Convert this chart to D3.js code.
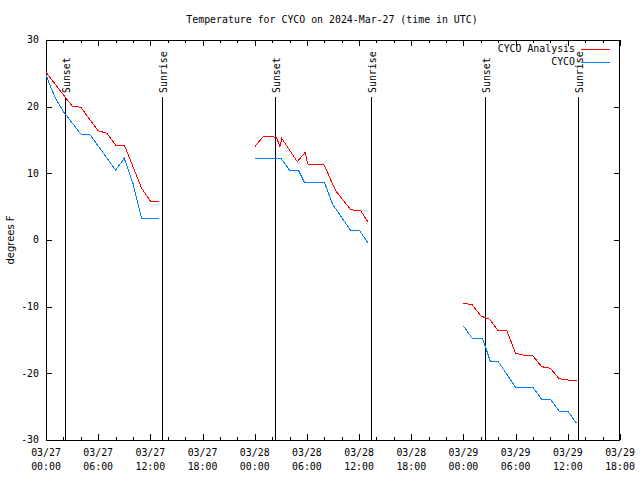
<!DOCTYPE html>
<html>
<head>
<meta charset="utf-8">
<script src="https://cdn.jsdelivr.net/npm/d3@7"></script>
<style>
  html, body { margin: 0; padding: 0; background: #fff; }
  svg { display: block; }
  text { font-family: "DejaVu Sans Mono", "Liberation Mono", monospace; font-size: 9.9px; fill: #000; }
</style>
</head>
<body>
<svg id="chart" width="640" height="480"></svg>
<script>
// ---- data (hours since 2024-03-27 00:00 UTC, degrees F) ----
const title = "Temperature for CYCO on 2024-Mar-27 (time in UTC)";
const yLabel = "degrees F";
const seriesNames = ["CYCO Analysis", "CYCO"];
const seriesColors = ["#ff0000", "#0080ff"];

const analysisHours = [0, 3, 4, 6, 7, 8, 9, 10, 11, 12, 13, null,
  24, 25, 26, 26.5, 26.9, 27.1, 28.9, 29.8, 30.1, 32, 33, 33.4, 35, 35.5, 36.2, 37, null,
  48, 49, 50, 51, 52, 53, 54, 55, 56, 57, 58, 59, 60, 61];
const analysisTemps = [25.15, 20.1, 19.9, 16.4, 16.0, 14.25, 14.25, 11.0, 7.75, 5.85, 5.85, null,
  14.0, 15.55, 15.5, 15.4, 14.0, 15.25, 11.75, 13.15, 11.4, 11.25, 8.25, 7.25, 4.6, 4.4, 4.35, 2.75, null,
  -9.5, -9.7, -11.4, -11.9, -13.6, -13.65, -17.0, -17.3, -17.4, -19.0, -19.25, -20.8, -21.0, -21.0];

const obsHours = [0, 0.45, 1, 2, 4, 5, 8, 9, 10, 11, 13, null,
  24, 27, 28, 29, 29.7, 32, 33, 35, 36, 37, null,
  48, 49, 50.2, 51.1, 52, 54, 56, 57, 58, 59, 60, 61];
const obsTemps = [24.75, 23.25, 21.5, 19.25, 15.9, 15.9, 10.5, 12.25, 8.5, 3.25, 3.25, null,
  12.25, 12.25, 10.5, 10.5, 8.7, 8.7, 5.25, 1.5, 1.5, -0.4, null,
  -12.9, -14.75, -14.75, -18.25, -18.25, -22.1, -22.1, -23.9, -23.9, -25.65, -25.65, -27.5];

const sunHours = [2.18, 13.34, 26.33, 37.37, 50.48, 61.17];
const sunLabels = ["Sunset", "Sunrise", "Sunset", "Sunrise", "Sunset", "Sunrise"];

const xTickHours = [0, 6, 12, 18, 24, 30, 36, 42, 48, 54, 60, 66];
const xTickDates = ["03/27", "03/27", "03/27", "03/27", "03/28", "03/28", "03/28", "03/28", "03/29", "03/29", "03/29", "03/29"];
const xTickTimes = ["00:00", "06:00", "12:00", "18:00", "00:00", "06:00", "12:00", "18:00", "00:00", "06:00", "12:00", "18:00"];
const yTicks = [-30, -20, -10, 0, 10, 20, 30];

// ---- layout ----
const L = 46, R = 620, T = 40, B = 440;
const svg = d3.select("#chart");
const x = d3.scaleLinear().domain([0, 66]).range([L, R]);
const y = d3.scaleLinear().domain([-30, 30]).range([B, T]);

// title
svg.append("text").attr("x", 332).attr("y", 23).attr("text-anchor", "middle").text(title);

// axes (inward ticks, mirrored)
const minorHours = d3.range(0, 67, 2);
const gAx = svg.append("g").attr("shape-rendering", "crispEdges").attr("stroke", "#000").attr("stroke-width", 1);
minorHours.forEach(h => {
  const major = h % 6 === 0;
  const len = major ? 6 : 3;
  gAx.append("line").attr("x1", Math.round(x(h)) + 0.5).attr("x2", Math.round(x(h)) + 0.5).attr("y1", B).attr("y2", B - len);
  gAx.append("line").attr("x1", Math.round(x(h)) + 0.5).attr("x2", Math.round(x(h)) + 0.5).attr("y1", T).attr("y2", T + len);
});
yTicks.forEach(v => {
  const py = Math.round(y(v)) + 0.5;
  gAx.append("line").attr("x1", L).attr("x2", L + 6).attr("y1", py).attr("y2", py);
  gAx.append("line").attr("x1", R).attr("x2", R - 6).attr("y1", py).attr("y2", py);
});

// y tick labels
svg.append("g").selectAll("text").data(yTicks).join("text")
  .attr("x", 39).attr("y", d => y(d)).attr("dy", "0.35em").attr("text-anchor", "end").text(d => d);

// x tick labels
const xl = svg.append("g").selectAll("g").data(xTickHours).join("g");
xl.append("text").attr("x", d => x(d)).attr("y", 456).attr("text-anchor", "middle").text((d, i) => xTickDates[i]);
xl.append("text").attr("x", d => x(d)).attr("y", 470).attr("text-anchor", "middle").text((d, i) => xTickTimes[i]);

// y label
svg.append("text").attr("transform", "translate(14,240) rotate(-90)").attr("text-anchor", "middle")
  .style("font-family", "'DejaVu Sans', sans-serif").style("font-size", "10px").text(yLabel);

// sunrise/sunset lines
const sun = svg.append("g");
sunHours.forEach((h, i) => {
  const px = Math.round(x(h)) + 0.5;
  sun.append("line").attr("x1", px).attr("x2", px).attr("y1", 97).attr("y2", B)
    .attr("stroke", "#000").attr("stroke-width", 1).attr("shape-rendering", "crispEdges");
  sun.append("text").attr("transform", `translate(${px + 4},93) rotate(-90)`).attr("text-anchor", "start").text(sunLabels[i]);
});

// border
svg.append("rect").attr("x", L + 0.5).attr("y", T + 0.5).attr("width", R - L - 1).attr("height", B - T)
  .attr("fill", "none").attr("stroke", "#000").attr("shape-rendering", "crispEdges");

// series
const line = d3.line().defined(d => d[1] != null).x(d => x(d[0])).y(d => y(d[1]));
const analysis = analysisHours.map((h, i) => [h, analysisTemps[i]]);
const obs = obsHours.map((h, i) => [h, obsTemps[i]]);
[analysis, obs].forEach((data, i) => {
  svg.append("path").datum(data).attr("d", line).attr("fill", "none")
    .attr("stroke", seriesColors[i]).attr("stroke-width", 1).attr("shape-rendering", "crispEdges");
});

// legend
seriesNames.forEach((name, i) => {
  const ly = 49 + i * 13;
  svg.append("text").attr("x", 575).attr("y", ly).attr("dy", "0.35em").attr("text-anchor", "end").text(name);
  svg.append("line").attr("x1", 581).attr("x2", 610).attr("y1", ly + 0.5).attr("y2", ly + 0.5)
    .attr("stroke", seriesColors[i]).attr("shape-rendering", "crispEdges");
});
</script>
</body>
</html>
